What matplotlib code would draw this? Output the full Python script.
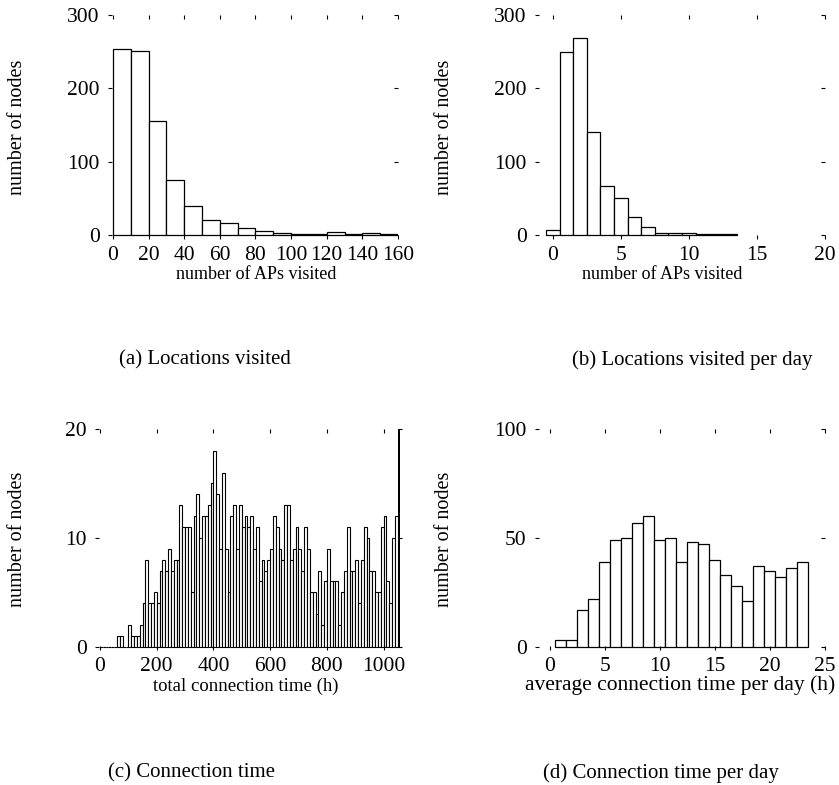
import numpy as np
import matplotlib.pyplot as plt

plt.rcParams['font.family'] = ['Liberation Serif', 'DejaVu Serif']

# (a) locations visited, bins of 10 APs starting at 0
aps_counts = [253, 251, 155, 75, 40, 21, 16, 9, 5, 3, 2, 2, 4, 1, 3, 1]
aps_bin = 10

# (b) locations visited per day, bins of width 1 centred on integers
apd_centers = [0, 1, 2, 3, 4, 5, 6, 7, 8, 9, 10, 11, 12, 13]
apd_counts = [7, 249, 269, 141, 67, 50, 24, 11, 3, 3, 3, 1, 2, 1]

# (c) total connection time, bins of 10 h starting at 0
conn_counts = [0, 0, 0, 0, 0, 0, 1, 1, 0, 0,
               2, 1, 1, 1, 2, 4, 8, 4, 4, 5,
               4, 7, 8, 7, 9, 7, 8, 8, 13, 11,
               11, 11, 5, 12, 14, 10, 12, 12, 13, 15,
               18, 14, 9, 16, 9, 5, 12, 13, 9, 13,
               11, 12, 11, 12, 9, 11, 6, 8, 7, 8,
               9, 12, 11, 9, 8, 13, 13, 8, 9, 11,
               9, 7, 11, 9, 5, 5, 3, 7, 2, 6,
               9, 6, 6, 6, 2, 5, 7, 11, 7, 7,
               8, 4, 8, 11, 10, 7, 7, 5, 5, 11,
               12, 6, 4, 10, 12]
conn_bin = 10
spike_x = 1050
spike_count = 20

# (d) average connection time per day, bins of 1 h centred on integers
cpd_centers = list(range(1, 24))
cpd_counts = [3, 3, 17, 22, 39, 49, 50, 57, 60, 49, 50, 39,
              48, 47, 40, 33, 28, 21, 37, 35, 32, 36, 39]

W, H = 839, 785
fig = plt.figure(figsize=(W / 100, H / 100), dpi=100)


def make_ax(l, r, t, b):
    return fig.add_axes([l / W, 1 - b / H, (r - l) / W, (b - t) / H])


def style(ax):
    for s in ax.spines.values():
        s.set_visible(False)
    ax.tick_params(direction='in', top=True, right=True, length=3.2,
                   width=0.8, labelsize=15.5, pad=5)
    ax.tick_params(axis='y', pad=6)


bar_kw = dict(facecolor='white', edgecolor='black', linewidth=0.9)

# (a)
ax1 = make_ax(108, 398, 15, 239)
edges = np.arange(len(aps_counts)) * aps_bin
ax1.bar(edges, aps_counts, width=aps_bin, align='edge', **bar_kw)
ax1.set_xlim(-2.8, 160)
ax1.set_ylim(-5.5, 300)
ax1.set_xticks(range(0, 161, 20))
ax1.set_yticks([0, 100, 200, 300])
style(ax1)

# (b)
ax2 = make_ax(535, 825, 15, 239)
ax2.bar(apd_centers, apd_counts, width=1, align='center', **bar_kw)
ax2.set_xlim(-1.3, 20)
ax2.set_ylim(-5.5, 300)
ax2.set_xticks([0, 5, 10, 15, 20])
ax2.set_yticks([0, 100, 200, 300])
style(ax2)

# (c)
ax3 = make_ax(95, 402, 429, 650)
edges = np.arange(len(conn_counts)) * conn_bin
ax3.bar(edges, conn_counts, width=conn_bin, align='edge', facecolor='white',
        edgecolor='black', linewidth=0.8)
ax3.bar([spike_x], [spike_count], width=8, align='edge', color='black',
        linewidth=0)
ax3.set_xlim(-17.6, 1065)
ax3.set_ylim(-0.3, 20)
ax3.set_xticks(range(0, 1001, 200))
ax3.set_yticks([0, 10, 20])
style(ax3)

# (d)
ax4 = make_ax(535, 825, 429, 650)
ax4.bar(cpd_centers, cpd_counts, width=1, align='center', **bar_kw)
ax4.set_xlim(-1.36, 25)
ax4.set_ylim(-1.5, 100)
ax4.set_xticks([0, 5, 10, 15, 20, 25])
ax4.set_yticks([0, 50, 100])
style(ax4)

ax1.set_xlabel('number of APs visited', fontsize=13)
ax1.xaxis.set_label_coords(0.51, -0.12)
ax2.set_xlabel('number of APs visited', fontsize=13)
ax2.xaxis.set_label_coords(0.44, -0.12)
ax3.set_xlabel('total connection time (h)', fontsize=13.5)
ax3.xaxis.set_label_coords(0.49, -0.125)
ax4.set_xlabel('average connection time per day (h)', fontsize=15.5)
ax4.xaxis.set_label_coords(0.50, -0.115)

for ax, xc in [(ax1, -0.278), (ax2, -0.278), (ax3, -0.22), (ax4, -0.278)]:
    ax.set_ylabel('number of nodes', fontsize=14.5)
    ax.yaxis.set_label_coords(xc, 0.5)

cap = dict(fontsize=15, ha='center', va='center')
fig.text(205 / W, 1 - 360 / H, '(a) Locations visited', **cap)
fig.text(692 / W, 1 - 360 / H, '(b) Locations visited per day', **cap)
fig.text(191 / W, 1 - 773 / H, '(c) Connection time', **cap)
fig.text(661 / W, 1 - 773 / H, '(d) Connection time per day', **cap)

fig.savefig('out.png', dpi=100)
